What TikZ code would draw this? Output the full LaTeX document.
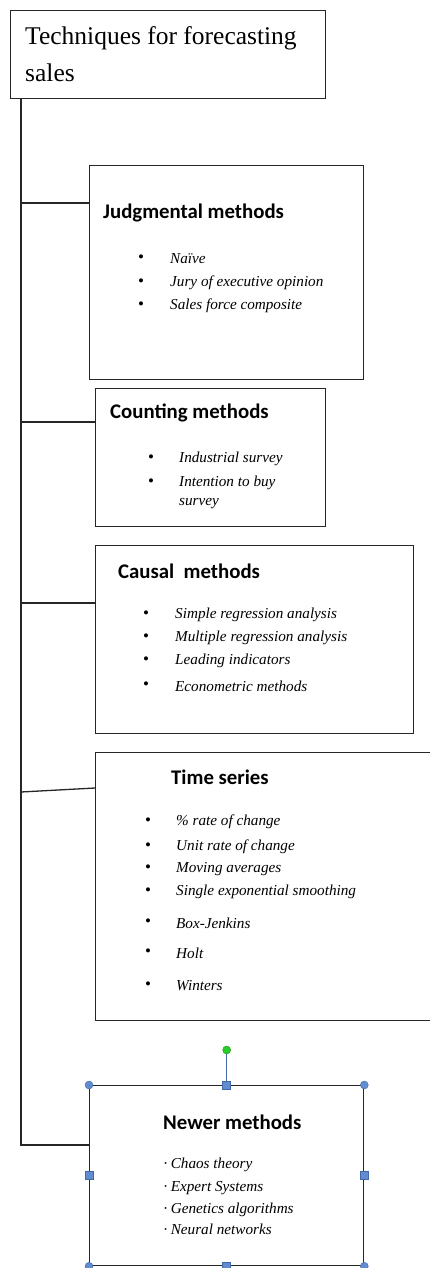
\documentclass[tikz,border=0pt]{standalone}
\usepackage{fontspec}
\setmainfont{Liberation Serif}
\newfontfamily\headfont{Carlito}
\usetikzlibrary{positioning}
\definecolor{trait}{gray}{0.15}
\definecolor{poignee}{RGB}{98,140,208}
\definecolor{poigneebord}{RGB}{66,104,170}
\definecolor{rotation}{RGB}{40,205,40}

\tikzset{
  boite/.style={draw=trait, line width=1.3pt, anchor=north west, inner sep=0pt},
  lien/.style={draw=trait, line width=1.3pt},
  entete/.style={font=\headfont\bfseries\fontsize{20.8}{25}\selectfont, anchor=west, inner sep=0pt},
  puce/.style={font=\itshape\fontsize{15.2}{18}\selectfont, anchor=west, inner sep=0pt},
  rond/.style={font=\fontsize{17}{18}\selectfont, inner sep=0pt},
  coin/.style={circle, fill=poignee, draw=poigneebord, inner sep=0pt, minimum size=8pt},
  carre/.style={rectangle, fill=poignee, draw=poigneebord, inner sep=0pt, minimum size=8pt}
}

\begin{document}
\begin{tikzpicture}[x=1pt, y=-1pt]
  \useasboundingbox (0,0) rectangle (430,1268);
  \clip (0,0) rectangle (430,1268);

  % --- titre ------------------------------------------------------------
  \node[boite, minimum width=315pt, minimum height=88pt] (titre) at (10,10) {};
  \node[font=\fontsize{25.5}{37}\selectfont, anchor=base west, inner sep=0pt]
       (titre-a) at (25,45) {Techniques for forecasting};
  \node[font=\fontsize{25.5}{37}\selectfont, anchor=base west, inner sep=0pt]
       (titre-b) at (25,82) {sales};

  % --- boites -----------------------------------------------------------
  \node[boite, minimum width=274pt, minimum height=214pt] (judg) at (89,165) {};
  \node[boite, minimum width=230pt, minimum height=138pt] (count) at (95,388) {};
  \node[boite, minimum width=318pt, minimum height=188pt] (causal) at (95,545) {};
  \node[boite, minimum width=345pt, minimum height=268pt] (serie) at (95,752) {};
  \node[boite, minimum width=274pt, minimum height=180pt] (newer) at (89,1085) {};

  % --- tronc et liens -----------------------------------------------------
  \coordinate (tronc) at ([xshift=11pt]titre.south west);
  \coordinate (j-l) at ([yshift=-38pt]judg.north west);
  \coordinate (c-l) at ([yshift=-34pt]count.north west);
  \coordinate (k-l) at ([yshift=-58pt]causal.north west);
  \coordinate (s-l) at ([yshift=-36pt]serie.north west);
  \coordinate (s-t) at (21,792);
  \coordinate (n-l) at ([yshift=-60pt]newer.north west);
  \draw[lien] (tronc) -- (tronc |- n-l) -- (n-l);
  \draw[lien] (tronc |- j-l) -- (j-l);
  \draw[lien] (tronc |- c-l) -- (c-l);
  \draw[lien] (tronc |- k-l) -- (k-l);
  \draw[lien] (s-t) -- (s-l);

  % --- Judgmental ---------------------------------------------------------
  \node[entete] (judg-t) at (103,213) {Judgmental methods};
  \foreach \y/\txt [count=\i] in {259/Naïve, 283/Jury of executive opinion,
                                  306/Sales force composite} {
    \node[rond] (judg-b\i) at (141,\y) {•};
    \node[puce] (judg-\i) at (170,\y) {\txt};
  }

  % --- Counting -----------------------------------------------------------
  \node[entete] (count-t) at (110,413) {Counting methods};
  \foreach \y/\txt [count=\i] in {459/Industrial survey, 483/Intention to buy} {
    \node[rond] (count-b\i) at (151,\y) {•};
    \node[puce] (count-\i) at (179,\y) {\txt};
  }
  \node[puce] (count-3) at (179,504) {survey};

  % --- Causal -------------------------------------------------------------
  \node[entete] (causal-t) at (118,571) {Causal\ \ methods};
  \foreach \y/\txt [count=\i] in {615/Simple regression analysis,
                                  638/Multiple regression analysis,
                                  661/Leading indicators, 686/Econometric methods} {
    \node[rond] (causal-b\i) at (146,\y) {•};
    \node[puce] (causal-\i) at (175,\y) {\txt};
  }

  % --- Time series --------------------------------------------------------
  \node[entete] (serie-t) at (171,777) {Time series};
  \foreach \y/\txt [count=\i] in {822/\% rate of change, 847/Unit rate of change,
                                  869/Moving averages, 892/Single exponential smoothing,
                                  923/Box-Jenkins, 953/Holt, 986/Winters} {
    \node[rond] (serie-b\i) at (148,\y) {•};
    \node[puce] (serie-\i) at (176,\y) {\txt};
  }

  % --- Newer --------------------------------------------------------------
  \node[entete] (newer-t) at (163,1122) {Newer methods};
  \foreach \y/\txt [count=\i] in {1165/Chaos theory, 1188/Expert Systems,
                                  1210/Genetics algorithms, 1229/Neural networks} {
    \node[puce] (newer-\i) at (163,\y) {\upshape·\,\itshape\txt};
  }

  % --- poignees de selection ----------------------------------------------
  \node[coin, fill=rotation, draw=rotation!70!black] (rot) at ([yshift=35pt]newer.north) {};
  \draw[poigneebord, line width=0.8pt] (rot) -- (newer.north);
  \foreach \a in {north west, north east, south west, south east}
    \node[coin] (h-\a) at (newer.\a) {};
  \foreach \a in {north, south, west, east}
    \node[carre] (m-\a) at (newer.\a) {};
\end{tikzpicture}
\end{document}
